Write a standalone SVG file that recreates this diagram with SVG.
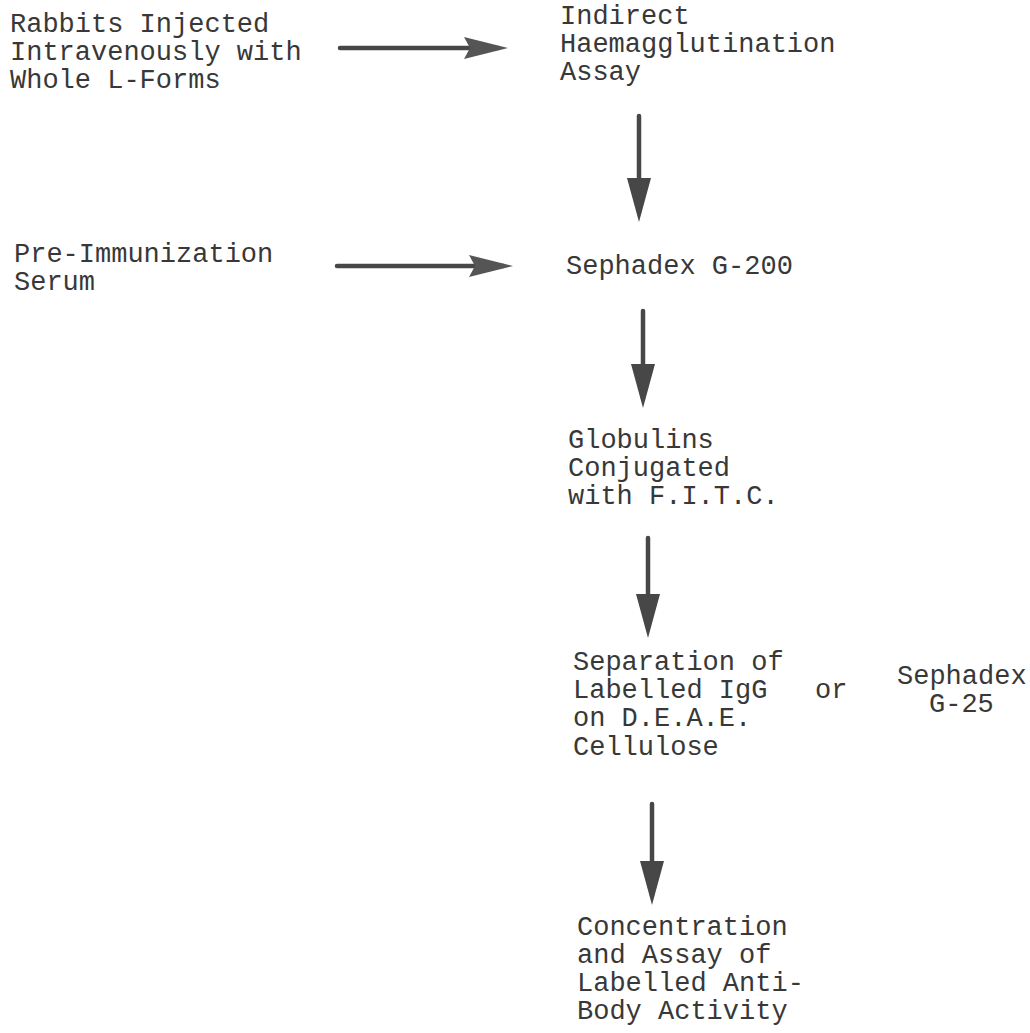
<svg xmlns="http://www.w3.org/2000/svg" width="1030" height="1033" viewBox="0 0 1030 1033">
<style>
text{font-family:"Liberation Mono","Courier New",monospace;font-size:27px;fill:#383838}
.c line{stroke:#474747;stroke-width:4.5;stroke-linecap:round}
</style>
<defs>
<marker id="hv" viewBox="0 0 44 24" markerWidth="44" markerHeight="24" refX="34" refY="12" markerUnits="userSpaceOnUse" orient="auto"><path d="M0,0 L44,12 L0,24 z" fill="#474747"/></marker>
<marker id="hh" viewBox="0 0 44 22" markerWidth="44" markerHeight="22" refX="34" refY="11" markerUnits="userSpaceOnUse" orient="auto"><path d="M0,0 L44,11 L0,22 L6,11 z" fill="#555"/></marker>
</defs>
<rect width="1030" height="1033" fill="#fff"/>
<g class="c" id="connectors">
<line x1="340" y1="48" x2="498" y2="48" marker-end="url(#hh)"/>
<line x1="337" y1="266" x2="503" y2="266" marker-end="url(#hh)"/>
<line x1="639" y1="116" x2="639" y2="212" marker-end="url(#hv)"/>
<line x1="643" y1="311" x2="643" y2="398" marker-end="url(#hv)"/>
<line x1="648" y1="538" x2="648" y2="628" marker-end="url(#hv)"/>
<line x1="652" y1="804" x2="652" y2="895" marker-end="url(#hv)"/>
</g>
<g id="n1"><text x="10" y="32">Rabbits Injected</text><text x="10" y="60">Intravenously with</text><text x="10" y="88">Whole L-Forms</text></g>
<g id="n2"><text x="560" y="24">Indirect</text><text x="560" y="52">Haemagglutination</text><text x="560" y="80">Assay</text></g>
<g id="n3"><text x="14" y="262">Pre-Immunization</text><text x="14" y="290">Serum</text></g>
<g id="n4"><text x="566" y="274">Sephadex G-200</text></g>
<g id="n5"><text x="568" y="448">Globulins</text><text x="568" y="476">Conjugated</text><text x="568" y="504">with F.I.T.C.</text></g>
<g id="n6"><text x="573" y="670">Separation of</text><text x="573" y="698">Labelled IgG</text><text x="573" y="726">on D.E.A.E.</text><text x="573" y="755">Cellulose</text></g>
<g id="n7"><text x="815" y="698">or</text></g>
<g id="n8"><text x="897" y="684">Sephadex</text><text x="929" y="712">G-25</text></g>
<g id="n9"><text x="577" y="935">Concentration</text><text x="577" y="963">and Assay of</text><text x="577" y="991">Labelled Anti-</text><text x="577" y="1019">Body Activity</text></g>
</svg>
